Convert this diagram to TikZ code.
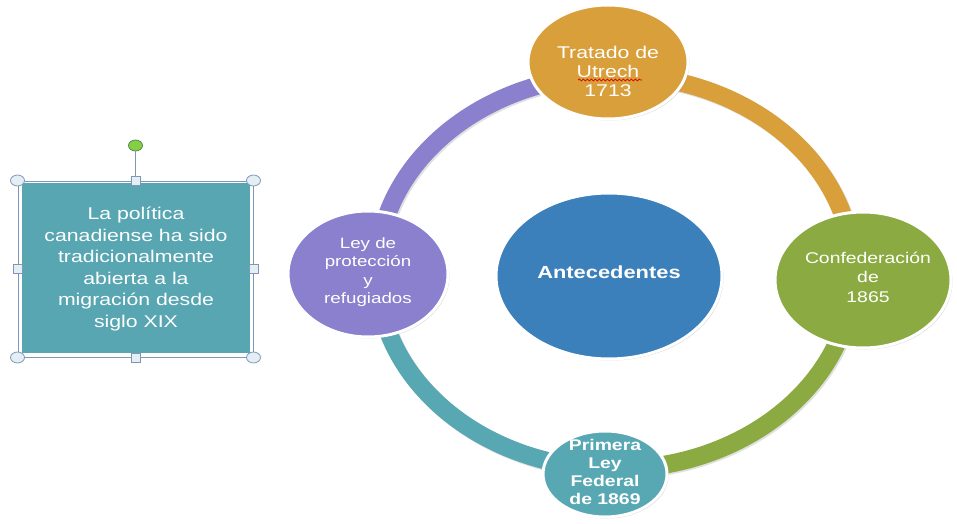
\documentclass[tikz,border=0pt]{standalone}
\usepackage{fontspec}
\setmainfont{Liberation Sans}
\newfontfamily\wide[FakeStretch=1.25]{Liberation Sans}
\usetikzlibrary{shapes.geometric,shadows,decorations.pathmorphing}
\definecolor{ringPurple}{HTML}{8A80CD}
\definecolor{ringOrange}{HTML}{D99F3B}
\definecolor{ringGreen}{HTML}{8BAB42}
\definecolor{ringTeal}{HTML}{57A8B3}
\definecolor{kernBlue}{HTML}{3B80BA}
\definecolor{boxTeal}{HTML}{57A6B2}
\definecolor{frameGray}{HTML}{8096B4}
\definecolor{handleFill}{HTML}{E4EFF5}
\definecolor{handleGreen}{HTML}{86CF45}

\tikzset{
    ringseg/.style={line width=18pt},
    kreis/.style={ellipse, draw=white, line width=3pt, inner sep=0pt,
        drop shadow={shadow xshift=1.5pt, shadow yshift=-1.5pt, opacity=.3}},
    txt/.style={text=white, align=center, inner sep=0pt},
    griff/.style={ellipse, draw=frameGray, fill=handleFill, line width=.8pt,
        minimum width=14pt, minimum height=11pt, inner sep=0pt},
    griffq/.style={rectangle, draw=frameGray, fill=handleFill, line width=.8pt,
        minimum size=9pt, inner sep=0pt},
}

\begin{document}
\begin{tikzpicture}[x=1pt, y=1pt]
    \useasboundingbox (0,0) rectangle (957,523);

    % Ring.
    \coordinate (ringc) at (615,251);
    \foreach \von/\bis in {180/90, 90/0, 0/-90, -90/-180}
    {
        \draw[ringseg, draw=black, opacity=.12] ([shift={(1.5,-1.5)}]ringc) ++(\von:238 and 197)
            arc[start angle=\von, end angle=\bis, x radius=238, y radius=197];
    }
    \foreach \farbe/\von/\bis in {ringPurple/180/90, ringOrange/90/0, ringGreen/0/-90, ringTeal/-90/-180}
    {
        \draw[ringseg, draw=\farbe] (ringc) ++(\von:238 and 197)
            arc[start angle=\von, end angle=\bis, x radius=238, y radius=197];
    }

    % Kreise.
    \node[kreis, fill=ringOrange, minimum width=160pt, minimum height=114pt] (tratado) at (608,461) {};
    \node[kreis, fill=ringGreen,  minimum width=176pt, minimum height=136pt] (confed)  at (863,243) {};
    \node[kreis, fill=ringTeal,   minimum width=124pt, minimum height=86pt ] (primera) at (605,49)  {};
    \node[kreis, fill=ringPurple, minimum width=160pt, minimum height=126pt] (ley)     at (368,249) {};
    \node[kreis, fill=kernBlue,   minimum width=226pt, minimum height=166pt] (ante)    at (609,247) {};

    % Beschriftung.
    \node[txt, font=\wide\fontsize{17}{19}\selectfont] (tratadoT) at ([yshift=-9pt]tratado.center)
        {Tratado de\\Utrech\\1713};
    \draw[red!85!black, line width=.7pt, decorate,
          decoration={snake, segment length=4pt, amplitude=1pt}] (578,443) -- (642,443);
    \node[txt, font=\wide\fontsize{15.5}{19.5}\selectfont] (confedT) at ([shift={(5pt,3pt)}]confed.center)
        {Confederación\\de\\1865};
    \node[txt, font=\wide\bfseries\fontsize{15.5}{17.7}\selectfont] (primeraT) at ([yshift=2pt]primera.center)
        {Primera\\Ley\\Federal\\de 1869};
    \node[txt, font=\wide\fontsize{15}{18.3}\selectfont] (leyT) at ([yshift=2pt]ley.center)
        {Ley de\\protección\\y\\refugiados};
    \node[txt, font=\wide\bfseries\fontsize{17.5}{20}\selectfont] (anteT) at ([yshift=4pt]ante.center)
        {Antecedentes};

    % Kasten.
    \node[fill=boxTeal, minimum width=228pt, minimum height=170pt, inner sep=0pt] (politica) at (136,255) {};
    \node[txt, font=\wide\fontsize{17}{21.5}\selectfont] (politicaT) at (136,254)
        {La política\\canadiense ha sido\\tradicionalmente\\abierta a la\\migración desde\\siglo XIX};
    \node[draw=frameGray, line width=1pt, minimum width=235pt, minimum height=176pt, inner sep=0pt] (rahmen) at (135.5,254) {};

    % Griffe.
    \node[griff, fill=handleGreen, draw=green!35!black!70] (dreh) at ([yshift=35pt]rahmen.north) {};
    \draw[frameGray, line width=1pt] (rahmen.north) -- (dreh);
    \foreach \a/\n in {north west/nw, north east/ne, south west/sw, south east/se}
    {
        \node[griff] (g\n) at (rahmen.\a) {};
    }
    \foreach \a/\n in {north/n, south/s, west/w, east/e}
    {
        \node[griffq] (q\n) at (rahmen.\a) {};
    }
\end{tikzpicture}
\end{document}
